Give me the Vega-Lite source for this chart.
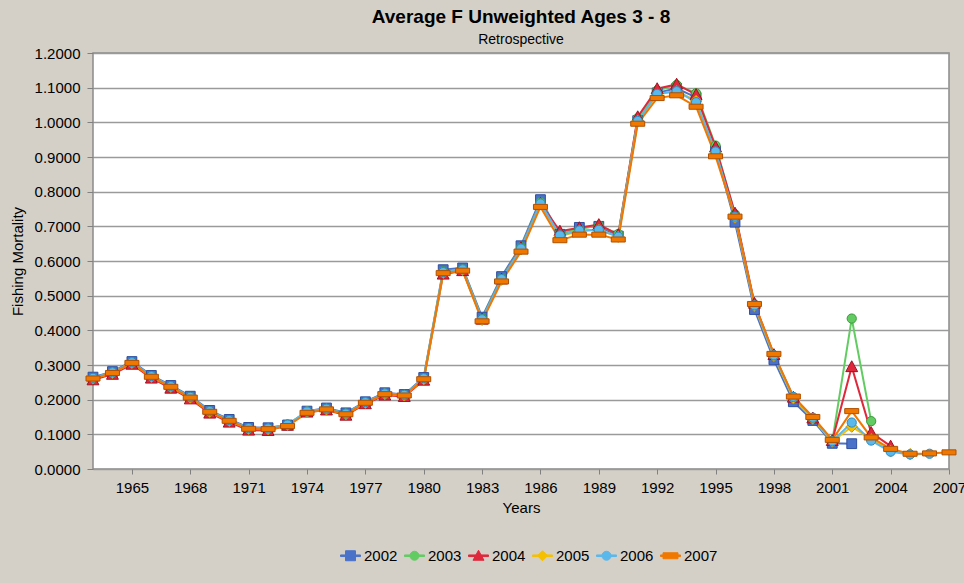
{
  "$schema": "https://vega.github.io/schema/vega-lite/v6.json",
  "width": 856,
  "height": 416,
  "autosize": "none",
  "padding": {"left": 93, "top": 53, "right": 15, "bottom": 114},
  "background": "#d4d0c8",
  "config": {
    "font": "Liberation Sans",
    "view": {"fill": "white", "stroke": "#8a8a8a", "strokeWidth": 1.5},
    "axis": {"labelFontSize": 15, "labelColor": "black", "titleFontSize": 15, "titleFontWeight": "normal", "titleColor": "black", "tickColor": "#808080", "domain": false},
    "legend": {"orient": "none", "legendX": 247, "legendY": 492, "direction": "horizontal", "title": null, "labelFontSize": 15, "labelColor": "black", "symbolSize": 400, "columnPadding": 4, "labelOffset": 3, "padding": 0, "symbolStrokeWidth": 1, "symbolOpacity": 1}
  },
  "title": {"text": "Average F Unweighted Ages 3 - 8", "subtitle": "Retrospective", "fontSize": 19, "fontWeight": "bold", "color": "black", "subtitleFontSize": 14, "subtitleColor": "black", "anchor": "middle", "offset": -1, "subtitlePadding": 6},
  "datasets": {
    "f": [
      {"s":"2002","yr":1963,"f":0.265},{"s":"2002","yr":1964,"f":0.281},{"s":"2002","yr":1965,"f":0.310},{"s":"2002","yr":1966,"f":0.270},{"s":"2002","yr":1967,"f":0.241},{"s":"2002","yr":1968,"f":0.210},{"s":"2002","yr":1969,"f":0.169},{"s":"2002","yr":1970,"f":0.143},{"s":"2002","yr":1971,"f":0.120},{"s":"2002","yr":1972,"f":0.119},{"s":"2002","yr":1973,"f":0.127},{"s":"2002","yr":1974,"f":0.167},{"s":"2002","yr":1975,"f":0.176},{"s":"2002","yr":1976,"f":0.162},{"s":"2002","yr":1977,"f":0.194},{"s":"2002","yr":1978,"f":0.220},{"s":"2002","yr":1979,"f":0.215},{"s":"2002","yr":1980,"f":0.264},{"s":"2002","yr":1981,"f":0.575},{"s":"2002","yr":1982,"f":0.580},{"s":"2002","yr":1983,"f":0.438},{"s":"2002","yr":1984,"f":0.555},{"s":"2002","yr":1985,"f":0.644},{"s":"2002","yr":1986,"f":0.777},{"s":"2002","yr":1987,"f":0.677},{"s":"2002","yr":1988,"f":0.697},{"s":"2002","yr":1989,"f":0.700},{"s":"2002","yr":1990,"f":0.672},{"s":"2002","yr":1991,"f":1.005},{"s":"2002","yr":1992,"f":1.085},{"s":"2002","yr":1993,"f":1.098},{"s":"2002","yr":1994,"f":1.072},{"s":"2002","yr":1995,"f":0.918},{"s":"2002","yr":1996,"f":0.712},{"s":"2002","yr":1997,"f":0.460},{"s":"2002","yr":1998,"f":0.315},{"s":"2002","yr":1999,"f":0.194},{"s":"2002","yr":2000,"f":0.140},{"s":"2002","yr":2001,"f":0.074},{"s":"2002","yr":2002,"f":0.073},
      {"s":"2003","yr":1963,"f":0.262},{"s":"2003","yr":1964,"f":0.278},{"s":"2003","yr":1965,"f":0.307},{"s":"2003","yr":1966,"f":0.267},{"s":"2003","yr":1967,"f":0.238},{"s":"2003","yr":1968,"f":0.207},{"s":"2003","yr":1969,"f":0.166},{"s":"2003","yr":1970,"f":0.140},{"s":"2003","yr":1971,"f":0.117},{"s":"2003","yr":1972,"f":0.116},{"s":"2003","yr":1973,"f":0.128},{"s":"2003","yr":1974,"f":0.166},{"s":"2003","yr":1975,"f":0.173},{"s":"2003","yr":1976,"f":0.160},{"s":"2003","yr":1977,"f":0.192},{"s":"2003","yr":1978,"f":0.217},{"s":"2003","yr":1979,"f":0.213},{"s":"2003","yr":1980,"f":0.261},{"s":"2003","yr":1981,"f":0.570},{"s":"2003","yr":1982,"f":0.576},{"s":"2003","yr":1983,"f":0.434},{"s":"2003","yr":1984,"f":0.550},{"s":"2003","yr":1985,"f":0.640},{"s":"2003","yr":1986,"f":0.770},{"s":"2003","yr":1987,"f":0.680},{"s":"2003","yr":1988,"f":0.692},{"s":"2003","yr":1989,"f":0.702},{"s":"2003","yr":1990,"f":0.678},{"s":"2003","yr":1991,"f":1.012},{"s":"2003","yr":1992,"f":1.092},{"s":"2003","yr":1993,"f":1.108},{"s":"2003","yr":1994,"f":1.084},{"s":"2003","yr":1995,"f":0.933},{"s":"2003","yr":1996,"f":0.735},{"s":"2003","yr":1997,"f":0.475},{"s":"2003","yr":1998,"f":0.328},{"s":"2003","yr":1999,"f":0.205},{"s":"2003","yr":2000,"f":0.145},{"s":"2003","yr":2001,"f":0.080},{"s":"2003","yr":2002,"f":0.434},{"s":"2003","yr":2003,"f":0.138},
      {"s":"2004","yr":1963,"f":0.257},{"s":"2004","yr":1964,"f":0.273},{"s":"2004","yr":1965,"f":0.302},{"s":"2004","yr":1966,"f":0.262},{"s":"2004","yr":1967,"f":0.233},{"s":"2004","yr":1968,"f":0.202},{"s":"2004","yr":1969,"f":0.161},{"s":"2004","yr":1970,"f":0.135},{"s":"2004","yr":1971,"f":0.112},{"s":"2004","yr":1972,"f":0.111},{"s":"2004","yr":1973,"f":0.126},{"s":"2004","yr":1974,"f":0.164},{"s":"2004","yr":1975,"f":0.170},{"s":"2004","yr":1976,"f":0.155},{"s":"2004","yr":1977,"f":0.188},{"s":"2004","yr":1978,"f":0.213},{"s":"2004","yr":1979,"f":0.209},{"s":"2004","yr":1980,"f":0.256},{"s":"2004","yr":1981,"f":0.562},{"s":"2004","yr":1982,"f":0.572},{"s":"2004","yr":1983,"f":0.432},{"s":"2004","yr":1984,"f":0.548},{"s":"2004","yr":1985,"f":0.638},{"s":"2004","yr":1986,"f":0.766},{"s":"2004","yr":1987,"f":0.686},{"s":"2004","yr":1988,"f":0.696},{"s":"2004","yr":1989,"f":0.705},{"s":"2004","yr":1990,"f":0.676},{"s":"2004","yr":1991,"f":1.016},{"s":"2004","yr":1992,"f":1.097},{"s":"2004","yr":1993,"f":1.110},{"s":"2004","yr":1994,"f":1.080},{"s":"2004","yr":1995,"f":0.929},{"s":"2004","yr":1996,"f":0.738},{"s":"2004","yr":1997,"f":0.478},{"s":"2004","yr":1998,"f":0.330},{"s":"2004","yr":1999,"f":0.207},{"s":"2004","yr":2000,"f":0.147},{"s":"2004","yr":2001,"f":0.082},{"s":"2004","yr":2002,"f":0.295},{"s":"2004","yr":2003,"f":0.105},{"s":"2004","yr":2004,"f":0.066},
      {"s":"2005","yr":1963,"f":0.261},{"s":"2005","yr":1964,"f":0.277},{"s":"2005","yr":1965,"f":0.306},{"s":"2005","yr":1966,"f":0.266},{"s":"2005","yr":1967,"f":0.237},{"s":"2005","yr":1968,"f":0.206},{"s":"2005","yr":1969,"f":0.165},{"s":"2005","yr":1970,"f":0.139},{"s":"2005","yr":1971,"f":0.116},{"s":"2005","yr":1972,"f":0.115},{"s":"2005","yr":1973,"f":0.127},{"s":"2005","yr":1974,"f":0.165},{"s":"2005","yr":1975,"f":0.172},{"s":"2005","yr":1976,"f":0.158},{"s":"2005","yr":1977,"f":0.191},{"s":"2005","yr":1978,"f":0.216},{"s":"2005","yr":1979,"f":0.212},{"s":"2005","yr":1980,"f":0.259},{"s":"2005","yr":1981,"f":0.566},{"s":"2005","yr":1982,"f":0.574},{"s":"2005","yr":1983,"f":0.430},{"s":"2005","yr":1984,"f":0.546},{"s":"2005","yr":1985,"f":0.634},{"s":"2005","yr":1986,"f":0.764},{"s":"2005","yr":1987,"f":0.672},{"s":"2005","yr":1988,"f":0.686},{"s":"2005","yr":1989,"f":0.690},{"s":"2005","yr":1990,"f":0.670},{"s":"2005","yr":1991,"f":1.004},{"s":"2005","yr":1992,"f":1.080},{"s":"2005","yr":1993,"f":1.090},{"s":"2005","yr":1994,"f":1.062},{"s":"2005","yr":1995,"f":0.912},{"s":"2005","yr":1996,"f":0.725},{"s":"2005","yr":1997,"f":0.470},{"s":"2005","yr":1998,"f":0.326},{"s":"2005","yr":1999,"f":0.204},{"s":"2005","yr":2000,"f":0.145},{"s":"2005","yr":2001,"f":0.079},{"s":"2005","yr":2002,"f":0.122},{"s":"2005","yr":2003,"f":0.086},{"s":"2005","yr":2004,"f":0.052},{"s":"2005","yr":2005,"f":0.043},
      {"s":"2006","yr":1963,"f":0.263},{"s":"2006","yr":1964,"f":0.279},{"s":"2006","yr":1965,"f":0.308},{"s":"2006","yr":1966,"f":0.268},{"s":"2006","yr":1967,"f":0.239},{"s":"2006","yr":1968,"f":0.208},{"s":"2006","yr":1969,"f":0.167},{"s":"2006","yr":1970,"f":0.141},{"s":"2006","yr":1971,"f":0.118},{"s":"2006","yr":1972,"f":0.117},{"s":"2006","yr":1973,"f":0.128},{"s":"2006","yr":1974,"f":0.166},{"s":"2006","yr":1975,"f":0.174},{"s":"2006","yr":1976,"f":0.160},{"s":"2006","yr":1977,"f":0.193},{"s":"2006","yr":1978,"f":0.218},{"s":"2006","yr":1979,"f":0.214},{"s":"2006","yr":1980,"f":0.262},{"s":"2006","yr":1981,"f":0.568},{"s":"2006","yr":1982,"f":0.576},{"s":"2006","yr":1983,"f":0.432},{"s":"2006","yr":1984,"f":0.548},{"s":"2006","yr":1985,"f":0.636},{"s":"2006","yr":1986,"f":0.766},{"s":"2006","yr":1987,"f":0.674},{"s":"2006","yr":1988,"f":0.688},{"s":"2006","yr":1989,"f":0.690},{"s":"2006","yr":1990,"f":0.670},{"s":"2006","yr":1991,"f":1.004},{"s":"2006","yr":1992,"f":1.082},{"s":"2006","yr":1993,"f":1.090},{"s":"2006","yr":1994,"f":1.058},{"s":"2006","yr":1995,"f":0.916},{"s":"2006","yr":1996,"f":0.728},{"s":"2006","yr":1997,"f":0.472},{"s":"2006","yr":1998,"f":0.328},{"s":"2006","yr":1999,"f":0.208},{"s":"2006","yr":2000,"f":0.148},{"s":"2006","yr":2001,"f":0.080},{"s":"2006","yr":2002,"f":0.134},{"s":"2006","yr":2003,"f":0.082},{"s":"2006","yr":2004,"f":0.050},{"s":"2006","yr":2005,"f":0.042},{"s":"2006","yr":2006,"f":0.044},
      {"s":"2007","yr":1963,"f":0.261},{"s":"2007","yr":1964,"f":0.277},{"s":"2007","yr":1965,"f":0.306},{"s":"2007","yr":1966,"f":0.266},{"s":"2007","yr":1967,"f":0.237},{"s":"2007","yr":1968,"f":0.206},{"s":"2007","yr":1969,"f":0.165},{"s":"2007","yr":1970,"f":0.139},{"s":"2007","yr":1971,"f":0.116},{"s":"2007","yr":1972,"f":0.115},{"s":"2007","yr":1973,"f":0.124},{"s":"2007","yr":1974,"f":0.162},{"s":"2007","yr":1975,"f":0.172},{"s":"2007","yr":1976,"f":0.158},{"s":"2007","yr":1977,"f":0.191},{"s":"2007","yr":1978,"f":0.216},{"s":"2007","yr":1979,"f":0.212},{"s":"2007","yr":1980,"f":0.259},{"s":"2007","yr":1981,"f":0.565},{"s":"2007","yr":1982,"f":0.572},{"s":"2007","yr":1983,"f":0.426},{"s":"2007","yr":1984,"f":0.541},{"s":"2007","yr":1985,"f":0.627},{"s":"2007","yr":1986,"f":0.756},{"s":"2007","yr":1987,"f":0.660},{"s":"2007","yr":1988,"f":0.676},{"s":"2007","yr":1989,"f":0.676},{"s":"2007","yr":1990,"f":0.662},{"s":"2007","yr":1991,"f":0.996},{"s":"2007","yr":1992,"f":1.070},{"s":"2007","yr":1993,"f":1.078},{"s":"2007","yr":1994,"f":1.045},{"s":"2007","yr":1995,"f":0.902},{"s":"2007","yr":1996,"f":0.728},{"s":"2007","yr":1997,"f":0.476},{"s":"2007","yr":1998,"f":0.332},{"s":"2007","yr":1999,"f":0.209},{"s":"2007","yr":2000,"f":0.150},{"s":"2007","yr":2001,"f":0.084},{"s":"2007","yr":2002,"f":0.167},{"s":"2007","yr":2003,"f":0.091},{"s":"2007","yr":2004,"f":0.058},{"s":"2007","yr":2005,"f":0.044},{"s":"2007","yr":2006,"f":0.045},{"s":"2007","yr":2007,"f":0.048}
    ]
  },
  "data": {"name": "f"},
  "encoding": {
    "x": {"field": "yr", "type": "quantitative", "scale": {"domain": [1963, 2007], "nice": false, "zero": false},
      "axis": {"values": [1965,1968,1971,1974,1977,1980,1983,1986,1989,1992,1995,1998,2001,2004,2007], "format": "d", "title": "Years", "grid": false, "tickSize": 5, "labelPadding": 6, "titlePadding": 5, "labelFlush": false, "labelOverlap": false}},
    "y": {"field": "f", "type": "quantitative", "scale": {"domain": [0, 1.2], "nice": false},
      "axis": {"values": [0,0.1,0.2,0.3,0.4,0.5,0.6,0.7,0.8,0.9,1.0,1.1,1.2], "format": ".4f", "title": "Fishing Mortality", "grid": true, "gridColor": "#9a9a9a", "gridWidth": 1.6, "tickSize": 6, "labelPadding": 7, "titlePadding": 9, "labelFlush": false, "labelOverlap": false}}
  },
  "layer": [
    {"transform": [{"filter": "datum.yr == 0"}],
     "mark": {"type": "point", "filled": true, "size": 400, "opacity": 1},
     "encoding": {
       "color": {"field": "s", "type": "nominal",
         "scale": {"domain": ["2002","2003","2004","2005","2006","2007"], "range": ["#4a72c8","#62cc62","#e0283c","#f5c000","#5ab8ec","#f07800"]}},
       "shape": {"field": "s", "type": "nominal", "scale": {"domain": ["2002","2003","2004","2005","2006","2007"], "range": [
         "M-1,-0.08H1V0.08H-1ZM-0.5,-0.5H0.5V0.5H-0.5Z",
         "M-1,-0.08H1V0.08H-1ZM0.45,0A0.45,0.45,0,1,1,-0.45,0A0.45,0.45,0,1,1,0.45,0Z",
         "M-1,-0.08H1V0.08H-1ZM0,-0.55L0.55,0.45H-0.55Z",
         "M-1,-0.08H1V0.08H-1ZM0,-0.5L0.5,0L0,0.5L-0.5,0Z",
         "M-1,-0.08H1V0.08H-1ZM0.45,0A0.45,0.45,0,1,1,-0.45,0A0.45,0.45,0,1,1,0.45,0Z",
         "M-1,-0.08H1V0.08H-1ZM-0.75,-0.3H0.75V0.3H-0.75Z"]}}
     }},
    {"mark": {"type": "line", "strokeWidth": 2},
     "encoding": {"color": {"field": "s", "type": "nominal"}}},
    {"transform": [{"filter": "datum.s == '2002'"}],
     "mark": {"type": "point", "filled": true, "size": 196, "opacity": 1, "shape": "M-0.7,-0.7H0.7V0.7H-0.7Z", "fill": "#4a72c8", "stroke": "#2f4f9f", "strokeWidth": 1}},
    {"transform": [{"filter": "datum.s == '2003'"}],
     "mark": {"type": "point", "filled": true, "size": 196, "opacity": 1, "shape": "M0.66,0A0.66,0.66,0,1,1,-0.66,0A0.66,0.66,0,1,1,0.66,0Z", "fill": "#62cc62", "stroke": "#3a9a3a", "strokeWidth": 1}},
    {"transform": [{"filter": "datum.s == '2004'"}],
     "mark": {"type": "point", "filled": true, "size": 196, "opacity": 1, "shape": "M0,-0.85L0.85,0.7H-0.85Z", "fill": "#e0283c", "stroke": "#a01020", "strokeWidth": 1}},
    {"transform": [{"filter": "datum.s == '2005'"}],
     "mark": {"type": "point", "filled": true, "size": 196, "opacity": 1, "shape": "M0,-0.8L0.8,0L0,0.8L-0.8,0Z", "fill": "#f5c000", "stroke": "#c89400", "strokeWidth": 1}},
    {"transform": [{"filter": "datum.s == '2006'"}],
     "mark": {"type": "point", "filled": true, "size": 196, "opacity": 1, "shape": "M0.66,0A0.66,0.66,0,1,1,-0.66,0A0.66,0.66,0,1,1,0.66,0Z", "fill": "#5ab8ec", "stroke": "#2a8ac0", "strokeWidth": 1}},
    {"transform": [{"filter": "datum.s == '2007'"}],
     "mark": {"type": "point", "filled": true, "size": 196, "opacity": 1, "shape": "M-1,-0.36H1V0.36H-1Z", "fill": "#f07800", "stroke": "#b05000", "strokeWidth": 1}}
  ]
}
